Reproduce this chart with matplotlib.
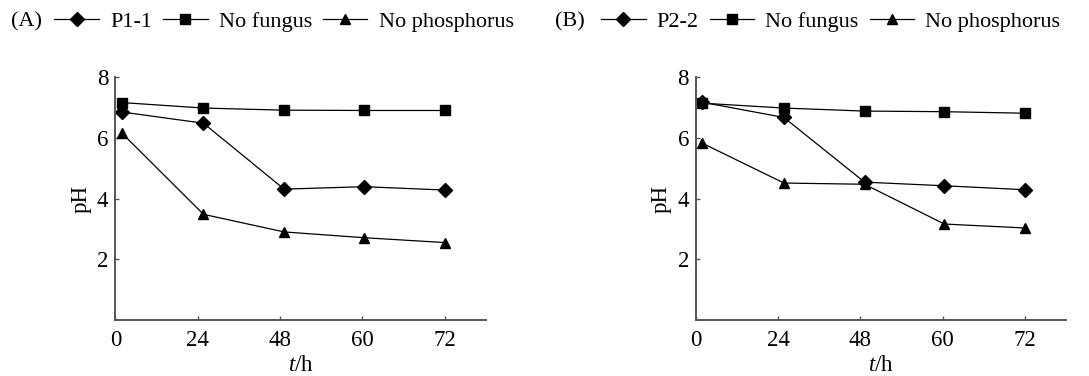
"""pH changes over time for two phosphate-solubilizing fungal strains."""

import matplotlib

matplotlib.use("Agg")
import matplotlib.pyplot as plt

plt.rcParams["font.family"] = ["Liberation Serif", "DejaVu Serif"]
plt.rcParams["mathtext.fontset"] = "custom"
plt.rcParams["mathtext.it"] = "Liberation Serif:italic"
plt.rcParams["mathtext.rm"] = "Liberation Serif"

# sampling times (h) shown as evenly spaced categories
time_labels = ["0", "24", "48", "60", "72"]
sample_pos = [0.08, 1.07, 2.05, 3.02, 4.0]

# panel A
ph_p11 = [6.85, 6.48, 4.31, 4.39, 4.28]
ph_nofungus_a = [7.16, 6.98, 6.91, 6.90, 6.90]
ph_nophos_a = [6.15, 3.48, 2.90, 2.71, 2.55]

# panel B
ph_p22 = [7.17, 6.67, 4.54, 4.42, 4.29]
ph_nofungus_b = [7.14, 6.98, 6.88, 6.86, 6.81]
ph_nophos_b = [5.82, 4.51, 4.47, 3.16, 3.03]

panels = [
    ("(A)", "P1-1", ph_p11, ph_nofungus_a, ph_nophos_a),
    ("(B)", "P2-2", ph_p22, ph_nofungus_b, ph_nophos_b),
]


def main() -> None:
    fig = plt.figure(figsize=(10.89, 3.76), dpi=100)
    lefts = [0.106, 0.639]
    tag_x = [0.010, 0.510]
    legend_x = [0.050, 0.552]
    legend_y = 0.943
    spine_col = "#555555"

    for i, (tag, strain, strain_ph, nofungus_ph, nophos_ph) in enumerate(panels):
        ax = fig.add_axes([lefts[i], 0.149, 0.340, 0.646])
        kw = dict(color="black", linewidth=0.9)
        h1, = ax.plot(sample_pos, strain_ph, marker="D", markersize=7, label=strain, **kw)
        h2, = ax.plot(sample_pos, nofungus_ph, marker="s", markersize=7, label="No fungus", **kw)
        h3, = ax.plot(sample_pos, nophos_ph, marker="^", markersize=7.5, label="No phosphorus", **kw)

        ax.set_xlim(0, 4.5)
        ax.set_ylim(0, 8)
        ax.set_xticks(range(len(time_labels)))
        ax.set_xticklabels(time_labels)
        ax.set_yticks([2, 4, 6, 8])
        ax.tick_params(direction="in", length=3, width=1, color=spine_col,
                       labelsize=16.5)
        ax.tick_params(axis="x", pad=7)
        ax.tick_params(axis="y", pad=5)
        for side in ("top", "right"):
            ax.spines[side].set_visible(False)
        for side in ("left", "bottom"):
            ax.spines[side].set_color(spine_col)
            ax.spines[side].set_linewidth(1.4)
        ax.set_xlabel("$t$/h", fontsize=16.5, labelpad=3)
        ax.set_ylabel("pH", fontsize=16.5, labelpad=4)

        fig.text(tag_x[i], legend_y, tag, fontsize=16, va="center", ha="left")
        fig.legend(
            handles=[h1, h2, h3],
            loc="center left",
            bbox_to_anchor=(legend_x[i], legend_y),
            ncol=3,
            frameon=False,
            fontsize=16,
            handlelength=2.0,
            handletextpad=0.5,
            columnspacing=0.5,
            borderaxespad=0,
            borderpad=0,
        )

    fig.savefig("out.png", dpi=100)
    plt.close(fig)


if __name__ == "__main__":
    main()
